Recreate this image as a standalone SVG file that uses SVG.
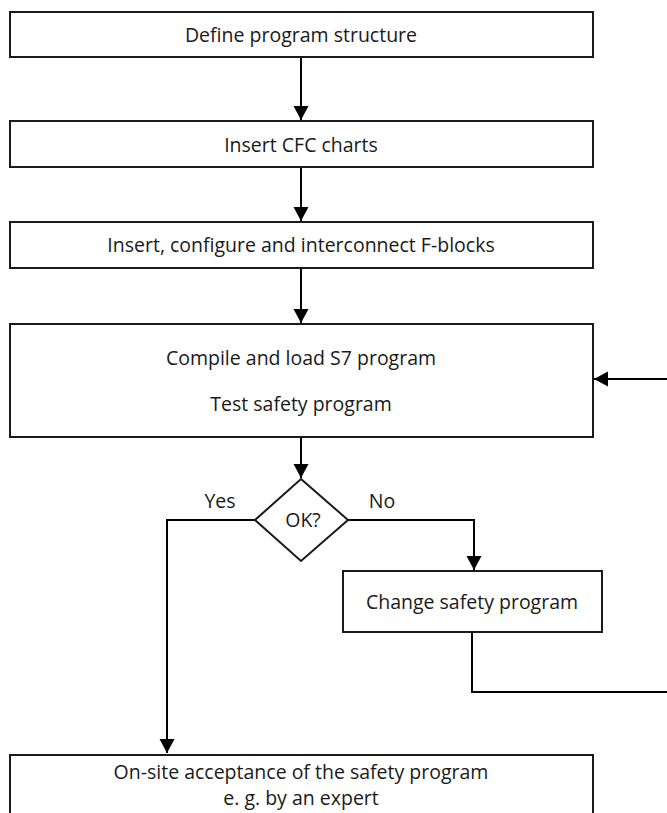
<svg xmlns="http://www.w3.org/2000/svg" width="667" height="813" viewBox="0 0 667 813">
  <style>
    .box { fill: #ffffff; stroke: #1a1a1a; stroke-width: 2; }
    .lbl { font-family: "Open Sans", "Noto Sans", "Liberation Sans", sans-serif; font-size: 19.5px; fill: #1a1a1a; text-anchor: middle; }
    .wire { fill: none; stroke: #000000; stroke-width: 2; }
  </style>
  <defs>
    <marker id="arrow" markerUnits="userSpaceOnUse" markerWidth="16" markerHeight="16" refX="14" refY="7.5" orient="auto">
      <path d="M0,0 L14,7.5 L0,15 z" fill="#000000"/>
    </marker>
  </defs>
  <rect width="667" height="813" fill="#ffffff"/>

  <g id="connectors">
    <path class="wire" d="M301,57 V120" marker-end="url(#arrow)"/>
    <path class="wire" d="M301,167 V221" marker-end="url(#arrow)"/>
    <path class="wire" d="M301,268 V323" marker-end="url(#arrow)"/>
    <path class="wire" d="M301,437 V478" marker-end="url(#arrow)"/>
    <path class="wire" d="M255,520 H167 V753" marker-end="url(#arrow)"/>
    <path class="wire" d="M348,520 H474 V570" marker-end="url(#arrow)"/>
    <path class="wire" d="M472,632 V692 H672 V379 H594" marker-end="url(#arrow)"/>
  </g>

  <g id="define-structure">
    <rect class="box" x="10" y="12" width="583" height="45"/>
    <text class="lbl" x="301" y="41.5">Define program structure</text>
  </g>

  <g id="insert-cfc">
    <rect class="box" x="10" y="121" width="583" height="46"/>
    <text class="lbl" x="301" y="151.5">Insert CFC charts</text>
  </g>

  <g id="insert-fblocks">
    <rect class="box" x="10" y="222" width="583" height="46"/>
    <text class="lbl" x="301" y="251.5">Insert, configure and interconnect F-blocks</text>
  </g>

  <g id="compile-test">
    <rect class="box" x="10" y="324" width="583" height="113"/>
    <text class="lbl" x="301" y="364.5">Compile and load S7 program</text>
    <text class="lbl" x="301" y="410.5">Test safety program</text>
  </g>

  <g id="ok-decision">
    <polygon class="box" points="301,479 348,520 301,561 255,520"/>
    <text class="lbl" x="303" y="526.5">OK?</text>
    <text class="lbl" x="220" y="507.5">Yes</text>
    <text class="lbl" x="382" y="507.5">No</text>
  </g>

  <g id="change-program">
    <rect class="box" x="343" y="571" width="259" height="61"/>
    <text class="lbl" x="472" y="608.5">Change safety program</text>
  </g>

  <g id="acceptance">
    <rect class="box" x="10" y="755" width="583" height="70"/>
    <text class="lbl" x="301" y="778.5">On-site acceptance of the safety program</text>
    <text class="lbl" x="301" y="804.5">e. g. by an expert</text>
  </g>
</svg>
